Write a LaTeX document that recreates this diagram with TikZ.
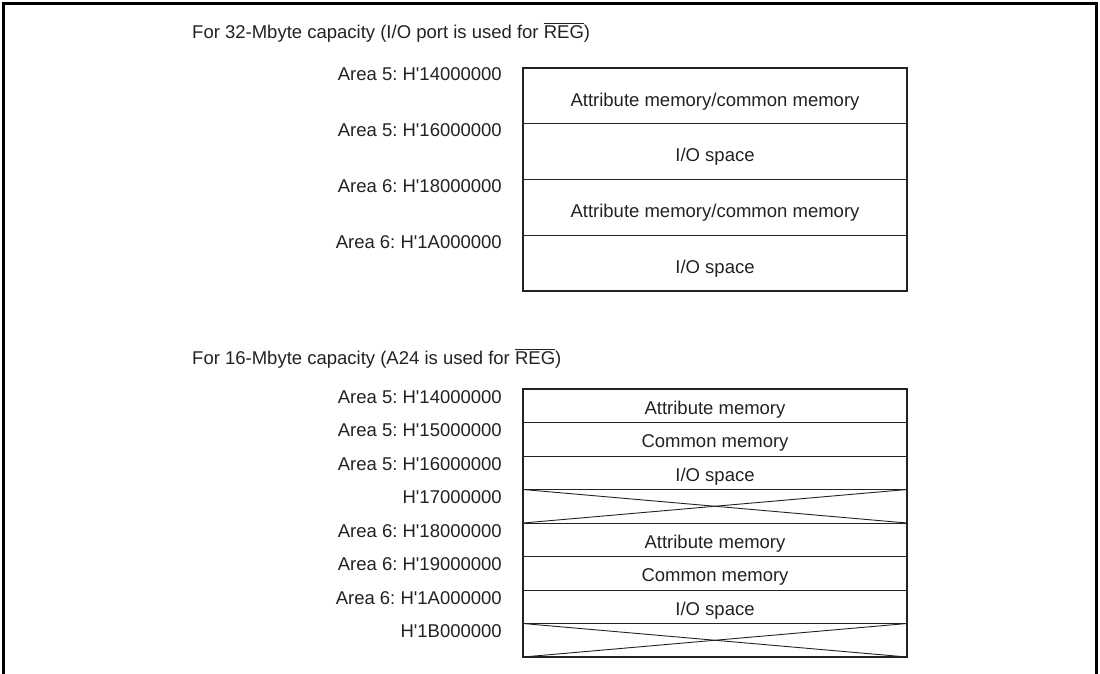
\documentclass[tikz,border=0pt]{standalone}
\usepackage{fontspec}
\setmainfont{Liberation Sans}[Ligatures=TeXOff]
\definecolor{ink}{HTML}{222222}
\tikzset{
  txt/.style={text=ink, inner sep=0pt, font=\fontsize{18.5}{22}\selectfont\frenchspacing},
  lbl/.style={txt, anchor=base east},
  cell/.style={txt, anchor=base},
  rowbox/.style={draw=ink, line width=0.9pt, minimum width=384pt, inner sep=0pt, outer sep=0pt, anchor=north west},
  bigrow/.style={rowbox, minimum height=55.75pt},
  smallrow/.style={rowbox, minimum height=33.5pt},
  boxline/.style={draw=ink, line width=2.2pt},
  frame/.style={draw=black, line width=3pt},
  crossline/.style={draw=ink, line width=0.9pt}
}
\newcommand{\regbar}{$\overline{\hbox{REG}}$}
\newcommand{\hq}{H'}
\begin{document}
\begin{tikzpicture}[x=1pt, y=-1pt]
\useasboundingbox (0,0) rectangle (1100,673);
\draw[frame] (3,676) -- (3,3) -- (1096,3) -- (1096,676);

% ---------- 32-Mbyte ----------
\node[txt, anchor=base west] (t1) at (192,38) {For 32-Mbyte capacity (I/O port is used for \regbar)};

\node[bigrow] (a1) at (523,68) {};
\node[bigrow] (a2) at (a1.south west) {};
\node[bigrow] (a3) at (a2.south west) {};
\node[bigrow] (a4) at (a3.south west) {};
\draw[boxline] (a1.north west) rectangle (a4.south east);

\node[cell] (ta1) at ([yshift=-38pt]a1.north) {Attribute memory/common memory};
\node[cell] (ta2) at ([yshift=-38pt]a2.north) {I/O space};
\node[cell] (ta3) at ([yshift=-38pt]a3.north) {Attribute memory/common memory};
\node[cell] (ta4) at ([yshift=-38pt]a4.north) {I/O space};

\node[lbl] (la1) at (502,80) {Area 5: \hq 14000000};
\node[lbl] (la2) at (502,136) {Area 5: \hq 16000000};
\node[lbl] (la3) at (502,192) {Area 6: \hq 18000000};
\node[lbl] (la4) at (502,248) {Area 6: \hq 1A000000};

% ---------- 16-Mbyte ----------
\node[txt, anchor=base west] (t2) at (192,364) {For 16-Mbyte capacity (A24 is used for \regbar)};

\node[smallrow] (b1) at (523,389) {};
\node[smallrow] (b2) at (b1.south west) {};
\node[smallrow] (b3) at (b2.south west) {};
\node[smallrow] (b4) at (b3.south west) {};
\node[smallrow] (b5) at (b4.south west) {};
\node[smallrow] (b6) at (b5.south west) {};
\node[smallrow] (b7) at (b6.south west) {};
\node[smallrow] (b8) at (b7.south west) {};
\draw[boxline] (b1.north west) rectangle (b8.south east);

\draw[crossline] (b4.north west) -- (b4.south east);
\draw[crossline] (b4.south west) -- (b4.north east);
\draw[crossline] (b8.north west) -- (b8.south east);
\draw[crossline] (b8.south west) -- (b8.north east);

\node[cell] (tb1) at ([yshift=-25pt]b1.north) {Attribute memory};
\node[cell] (tb2) at ([yshift=-25pt]b2.north) {Common memory};
\node[cell] (tb3) at ([yshift=-25pt]b3.north) {I/O space};
\node[cell] (tb5) at ([yshift=-25pt]b5.north) {Attribute memory};
\node[cell] (tb6) at ([yshift=-25pt]b6.north) {Common memory};
\node[cell] (tb7) at ([yshift=-25pt]b7.north) {I/O space};

\node[lbl] (lb1) at (502,403) {Area 5: \hq 14000000};
\node[lbl] (lb2) at (502,436.5) {Area 5: \hq 15000000};
\node[lbl] (lb3) at (502,470) {Area 5: \hq 16000000};
\node[lbl] (lb4) at (502,503.5) {\hq 17000000};
\node[lbl] (lb5) at (502,537) {Area 6: \hq 18000000};
\node[lbl] (lb6) at (502,570.5) {Area 6: \hq 19000000};
\node[lbl] (lb7) at (502,604) {Area 6: \hq 1A000000};
\node[lbl] (lb8) at (502,637.5) {\hq 1B000000};
\end{tikzpicture}
\end{document}
